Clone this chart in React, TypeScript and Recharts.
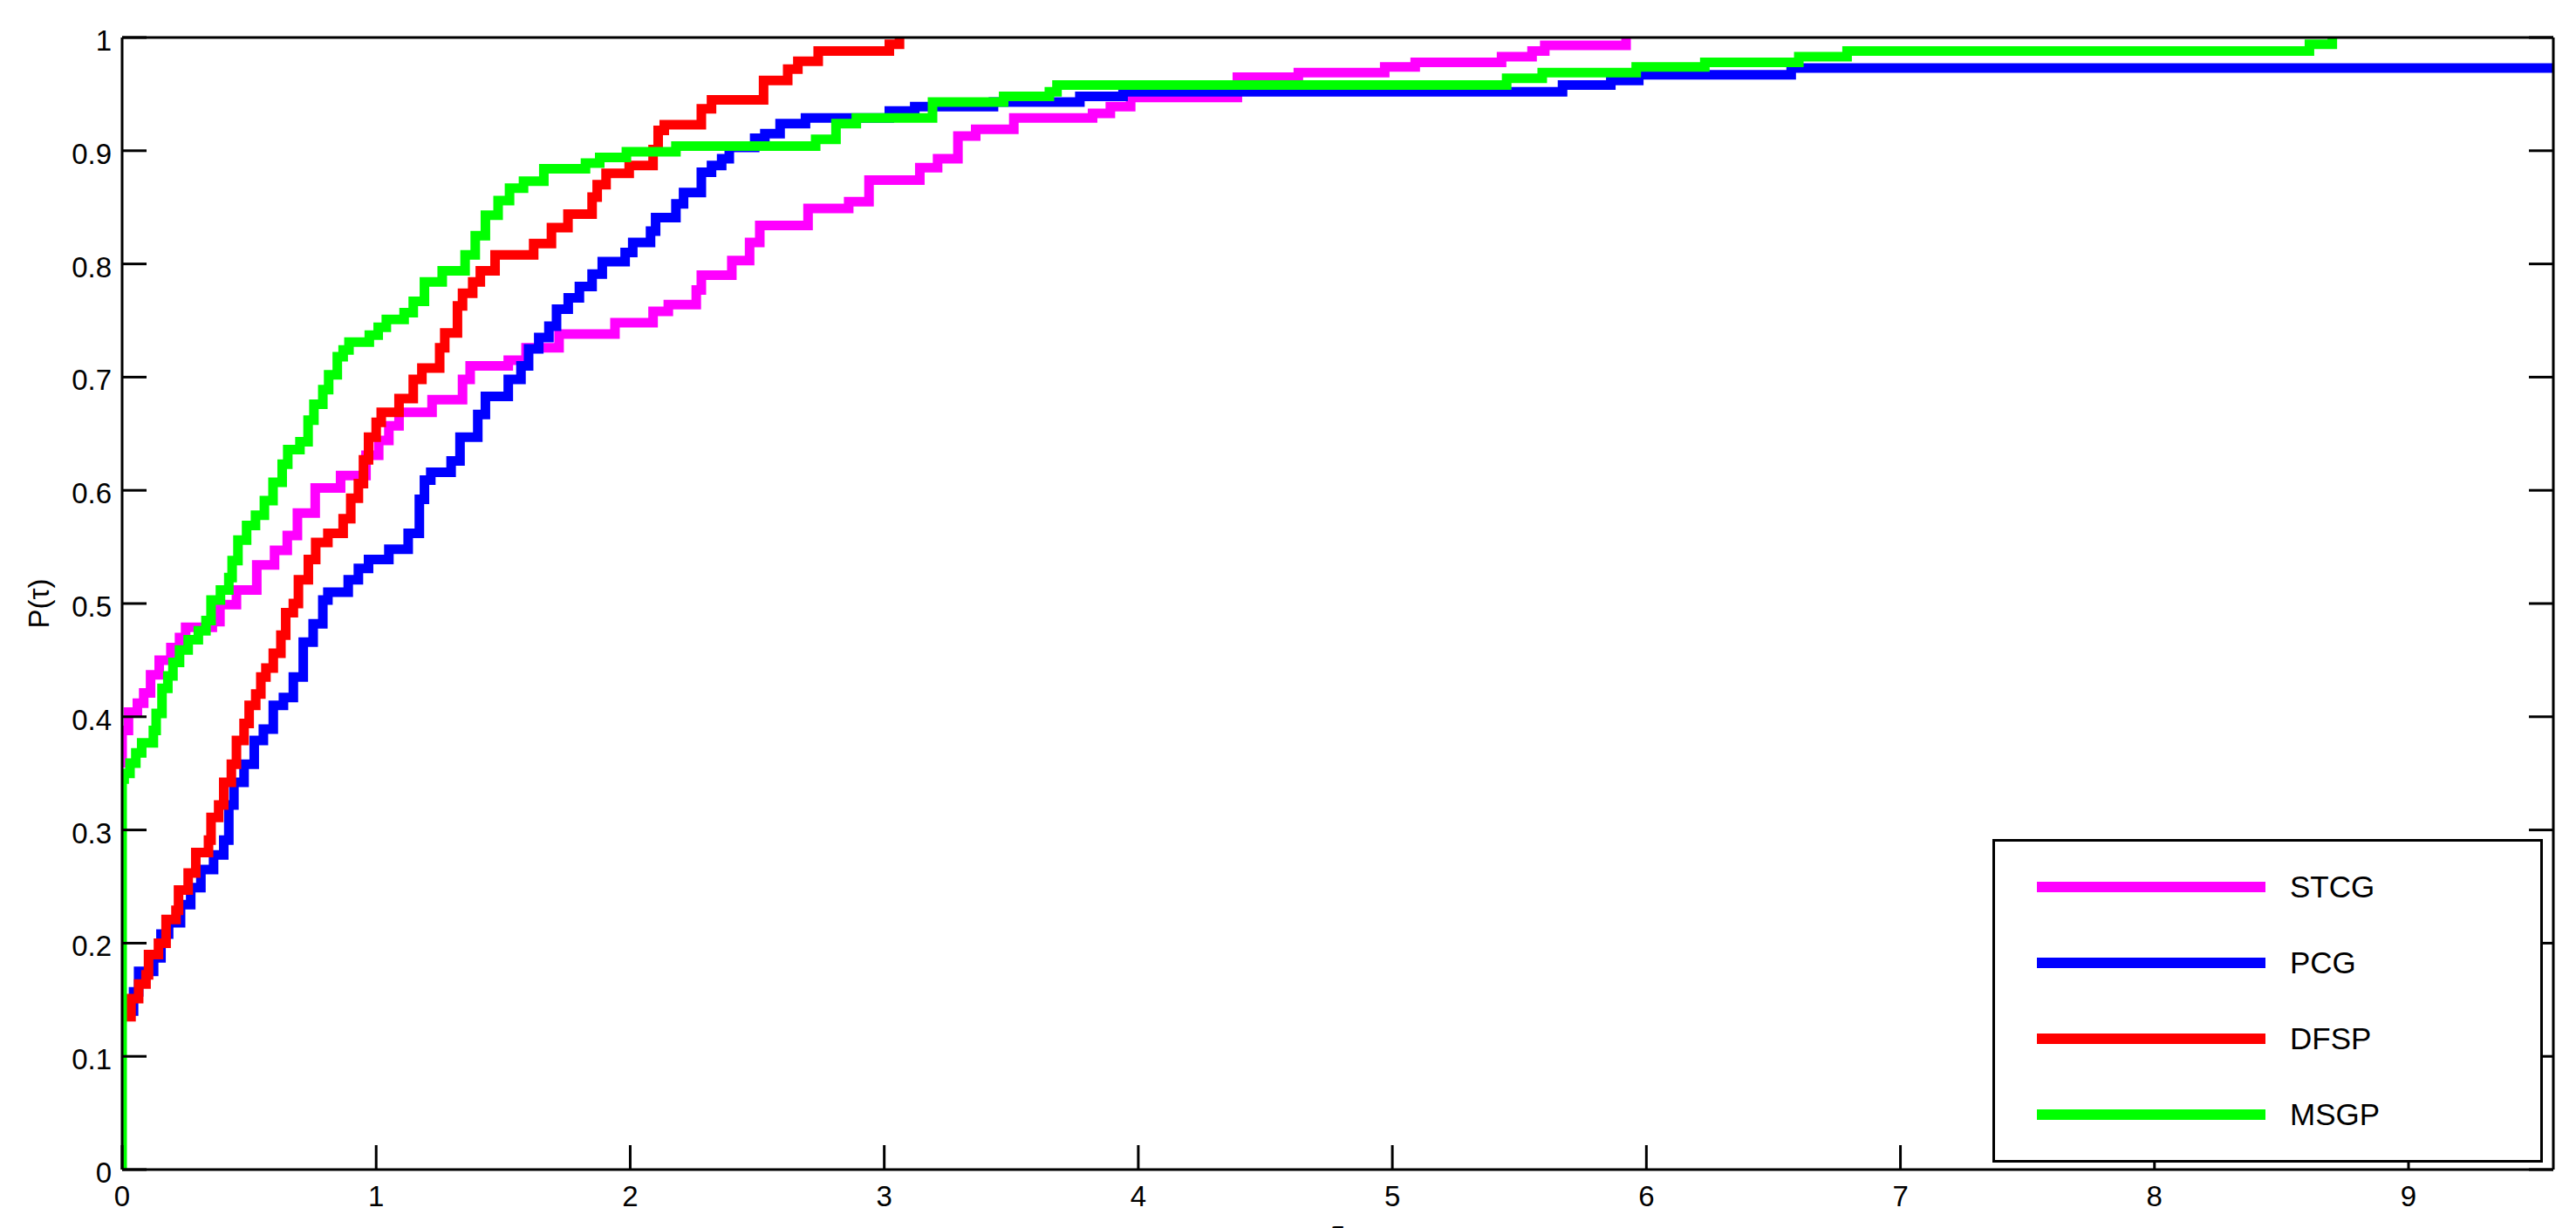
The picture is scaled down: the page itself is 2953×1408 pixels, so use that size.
import React from "react";
import {
  LineChart,
  Line,
  XAxis,
  YAxis,
  Legend,
} from "recharts";

const FONT = '"Liberation Sans", Arial, Helvetica, sans-serif';

// performance profile values: [tau, P(tau)]
const STCG: [number, number][] = [
  [0, 0.355], [0, 0.388], [0.025, 0.404], [0.06, 0.412], [0.085, 0.421], [0.112, 0.437],
  [0.146, 0.45], [0.192, 0.461], [0.226, 0.47], [0.25, 0.479], [0.355, 0.484], [0.385, 0.499],
  [0.45, 0.512], [0.53, 0.534], [0.6, 0.547], [0.65, 0.56], [0.69, 0.58], [0.76, 0.602],
  [0.86, 0.613], [0.96, 0.631], [1.01, 0.644], [1.05, 0.657], [1.09, 0.669], [1.22, 0.68],
  [1.34, 0.698], [1.37, 0.71], [1.52, 0.715], [1.59, 0.726], [1.72, 0.738], [1.94, 0.748],
  [2.09, 0.758], [2.15, 0.764], [2.26, 0.777], [2.28, 0.79], [2.4, 0.803], [2.47, 0.819],
  [2.51, 0.834], [2.7, 0.849], [2.86, 0.855], [2.94, 0.874], [3.14, 0.885], [3.21, 0.893],
  [3.29, 0.913], [3.36, 0.919], [3.51, 0.929], [3.82, 0.933], [3.89, 0.939], [3.97, 0.947],
  [4.39, 0.965], [4.63, 0.969], [4.97, 0.974], [5.09, 0.978], [5.43, 0.983], [5.55, 0.988],
  [5.6, 0.993], [5.92, 1.0],
];

const PCG: [number, number][] = [
  [0, 0.136], [0.016, 0.14], [0.045, 0.157], [0.065, 0.175], [0.124, 0.187], [0.153, 0.208],
  [0.183, 0.218], [0.23, 0.234], [0.27, 0.249], [0.31, 0.265], [0.36, 0.278], [0.4, 0.291],
  [0.42, 0.322], [0.44, 0.342], [0.48, 0.358], [0.52, 0.379], [0.556, 0.389], [0.595, 0.41],
  [0.635, 0.417], [0.674, 0.435], [0.713, 0.466], [0.752, 0.482], [0.79, 0.503], [0.81, 0.51],
  [0.89, 0.521], [0.93, 0.531], [0.97, 0.539], [1.05, 0.548], [1.126, 0.562], [1.17, 0.592],
  [1.19, 0.609], [1.215, 0.616], [1.295, 0.626], [1.33, 0.647], [1.4, 0.667], [1.43, 0.683],
  [1.52, 0.698], [1.57, 0.71], [1.6, 0.725], [1.64, 0.735], [1.68, 0.745], [1.71, 0.76],
  [1.756, 0.77], [1.8, 0.78], [1.85, 0.791], [1.89, 0.802], [1.98, 0.81], [2.01, 0.819],
  [2.08, 0.829], [2.1, 0.841], [2.18, 0.853], [2.21, 0.863], [2.28, 0.881], [2.32, 0.887],
  [2.36, 0.893], [2.39, 0.903], [2.49, 0.911], [2.53, 0.915], [2.59, 0.924], [2.69, 0.929],
  [3.02, 0.935], [3.12, 0.939], [3.43, 0.943], [3.77, 0.948], [3.94, 0.952], [5.67, 0.958],
  [5.86, 0.962], [5.97, 0.967], [6.57, 0.973], [9.57, 0.973],
];

const DFSP: [number, number][] = [
  [0, 0.135], [0.035, 0.151], [0.065, 0.164], [0.094, 0.172], [0.104, 0.19], [0.143, 0.2],
  [0.173, 0.221], [0.212, 0.229], [0.222, 0.247], [0.26, 0.262], [0.29, 0.28], [0.34, 0.291],
  [0.35, 0.311], [0.38, 0.322], [0.4, 0.342], [0.43, 0.358], [0.45, 0.379], [0.48, 0.394],
  [0.5, 0.41], [0.526, 0.42], [0.546, 0.435], [0.566, 0.443], [0.595, 0.456], [0.625, 0.472],
  [0.644, 0.492], [0.674, 0.5], [0.694, 0.521], [0.733, 0.539], [0.762, 0.554], [0.81, 0.562],
  [0.87, 0.575], [0.9, 0.593], [0.93, 0.606], [0.95, 0.627], [0.97, 0.647], [1.0, 0.66],
  [1.02, 0.669], [1.09, 0.681], [1.146, 0.698], [1.18, 0.708], [1.25, 0.726], [1.27, 0.739],
  [1.32, 0.763], [1.34, 0.774], [1.38, 0.784], [1.41, 0.794], [1.468, 0.808], [1.62, 0.818],
  [1.69, 0.832], [1.755, 0.844], [1.85, 0.859], [1.87, 0.87], [1.905, 0.88], [1.996, 0.887],
  [2.09, 0.901], [2.11, 0.918], [2.134, 0.923], [2.28, 0.937], [2.32, 0.945], [2.525, 0.962],
  [2.62, 0.972], [2.66, 0.979], [2.74, 0.988], [3.02, 0.994], [3.06, 1.0],
];

const MSGP: [number, number][] = [
  [0, 0], [0, 0.345], [0.008, 0.35], [0.031, 0.359], [0.054, 0.368], [0.077, 0.377],
  [0.123, 0.388], [0.134, 0.403], [0.157, 0.425], [0.18, 0.436], [0.2, 0.448], [0.226, 0.459],
  [0.26, 0.468], [0.3, 0.476], [0.33, 0.485], [0.35, 0.503], [0.387, 0.512], [0.42, 0.523],
  [0.433, 0.538], [0.456, 0.556], [0.49, 0.569], [0.525, 0.578], [0.56, 0.591], [0.594, 0.607],
  [0.63, 0.623], [0.652, 0.636], [0.7, 0.643], [0.732, 0.662], [0.755, 0.676], [0.79, 0.689],
  [0.813, 0.702], [0.847, 0.718], [0.87, 0.724], [0.893, 0.731], [0.973, 0.737], [1.008, 0.744],
  [1.04, 0.751], [1.11, 0.757], [1.146, 0.767], [1.19, 0.784], [1.26, 0.794], [1.35, 0.808],
  [1.39, 0.825], [1.43, 0.843], [1.48, 0.856], [1.525, 0.867], [1.58, 0.873], [1.66, 0.884],
  [1.824, 0.889], [1.88, 0.894], [1.985, 0.899], [2.18, 0.904], [2.73, 0.91], [2.81, 0.924],
  [2.89, 0.929], [3.19, 0.943], [3.47, 0.948], [3.65, 0.952], [3.68, 0.958], [5.45, 0.964],
  [5.59, 0.969], [5.96, 0.974], [6.23, 0.978], [6.6, 0.983], [6.79, 0.988], [8.61, 0.994],
  [8.7, 1.0],
];

const X_TICKS = [0, 1, 2, 3, 4, 5, 6, 7, 8, 9];
const Y_TICKS = [0, 0.1, 0.2, 0.3, 0.4, 0.5, 0.6, 0.7, 0.8, 0.9, 1];
const X_MAX = 9.57;

const SERIES = [
  { name: "STCG", color: "#ff00ff", points: STCG },
  { name: "PCG", color: "#0000ff", points: PCG },
  { name: "DFSP", color: "#ff0000", points: DFSP },
  { name: "MSGP", color: "#00ff00", points: MSGP },
];

const TICK_LEN = 28;

function BottomTick({ x, y, payload }: any) {
  return (
    <g>
      <line x1={x} y1={y} x2={x} y2={y - TICK_LEN} stroke="#000" strokeWidth={3} />
      <text x={x} y={y + 42} textAnchor="middle" fontSize={33} fontFamily={FONT} fill="#000">
        {payload.value}
      </text>
    </g>
  );
}

function LeftTick({ x, y, payload }: any) {
  return (
    <g>
      <line x1={x} y1={y} x2={x + TICK_LEN} y2={y} stroke="#000" strokeWidth={3} />
      <text x={x - 12} y={y + 15} textAnchor="end" fontSize={33} fontFamily={FONT} fill="#000">
        {payload.value}
      </text>
    </g>
  );
}

function TopTick({ x, y }: any) {
  return <line x1={x} y1={y} x2={x} y2={y + TICK_LEN} stroke="#000" strokeWidth={3} />;
}

function RightTick({ x, y }: any) {
  return <line x1={x} y1={y} x2={x - TICK_LEN} y2={y} stroke="#000" strokeWidth={3} />;
}

function XTitle({ viewBox }: any) {
  return (
    <text
      x={viewBox.x + viewBox.width / 2}
      y={viewBox.y + 83}
      textAnchor="middle"
      fontSize={33}
      fontFamily={FONT}
      fill="#000"
    >
      τ
    </text>
  );
}

function YTitle({ viewBox }: any) {
  const cx = viewBox.x - 16;
  const cy = viewBox.y + viewBox.height / 2;
  return (
    <text
      x={cx}
      y={cy}
      transform={`rotate(-90 ${cx} ${cy})`}
      textAnchor="middle"
      dominantBaseline="central"
      fontSize={33}
      fontFamily={FONT}
      fill="#000"
    >
      P(τ)
    </text>
  );
}

// matlab-style legend box, items in plotting order
function LegendBox() {
  return (
    <div
      style={{
        width: 631,
        height: 371,
        boxSizing: "border-box",
        border: "3px solid #000",
        background: "#fff",
      }}
    >
      <svg width={625} height={365}>
        {SERIES.map((s, i) => {
          const cy = 52 + i * 87;
          return (
            <g key={s.name}>
              <line x1={48} x2={310} y1={cy} y2={cy} stroke={s.color} strokeWidth={12} />
              <text x={338} y={cy + 12} fontSize={35} fontFamily={FONT} fill="#000">
                {s.name}
              </text>
            </g>
          );
        })}
      </svg>
    </div>
  );
}

export default function App() {
  return (
    <div
      style={{
        position: "fixed",
        left: 0,
        top: 0,
        width: 2953,
        height: 1408,
        overflow: "hidden",
        background: "#fff",
      }}
    >
      <LineChart
        width={2953}
        height={1452}
        margin={{ top: 42, right: 25, left: 60, bottom: 51 }}
      >
        <XAxis
          type="number"
          dataKey="t"
          domain={[0, X_MAX]}
          ticks={X_TICKS}
          interval={0}
          allowDataOverflow
          height={60}
          tickSize={0}
          tickMargin={0}
          tickLine={false}
          axisLine={{ stroke: "#000", strokeWidth: 3 }}
          tick={<BottomTick />}
          label={<XTitle />}
        />
        <XAxis
          xAxisId="top"
          orientation="top"
          type="number"
          domain={[0, X_MAX]}
          ticks={X_TICKS}
          interval={0}
          allowDataOverflow
          height={1}
          tickSize={0}
          tickMargin={0}
          tickLine={false}
          axisLine={{ stroke: "#000", strokeWidth: 3 }}
          tick={<TopTick />}
        />
        <YAxis
          type="number"
          domain={[0, 1]}
          ticks={Y_TICKS}
          interval={0}
          allowDataOverflow
          width={80}
          tickSize={0}
          tickMargin={0}
          tickLine={false}
          axisLine={{ stroke: "#000", strokeWidth: 3 }}
          tick={<LeftTick />}
          label={<YTitle />}
        />
        <YAxis
          yAxisId="right"
          orientation="right"
          type="number"
          domain={[0, 1]}
          ticks={Y_TICKS}
          interval={0}
          allowDataOverflow
          width={1}
          tickSize={0}
          tickMargin={0}
          tickLine={false}
          axisLine={{ stroke: "#000", strokeWidth: 3 }}
          tick={<RightTick />}
        />
        <Legend
          layout="vertical"
          verticalAlign="middle"
          align="center"
          content={<LegendBox />}
          wrapperStyle={{ left: 2284, top: 962, width: 631, height: 371 }}
        />
        {SERIES.map((s) => (
          <Line
            key={s.name}
            name={s.name}
            data={s.points.map(([t, p]) => ({ t, p }))}
            dataKey="p"
            type="stepAfter"
            stroke={s.color}
            strokeWidth={11}
            dot={false}
            activeDot={false}
            isAnimationActive={false}
          />
        ))}
      </LineChart>
    </div>
  );
}
